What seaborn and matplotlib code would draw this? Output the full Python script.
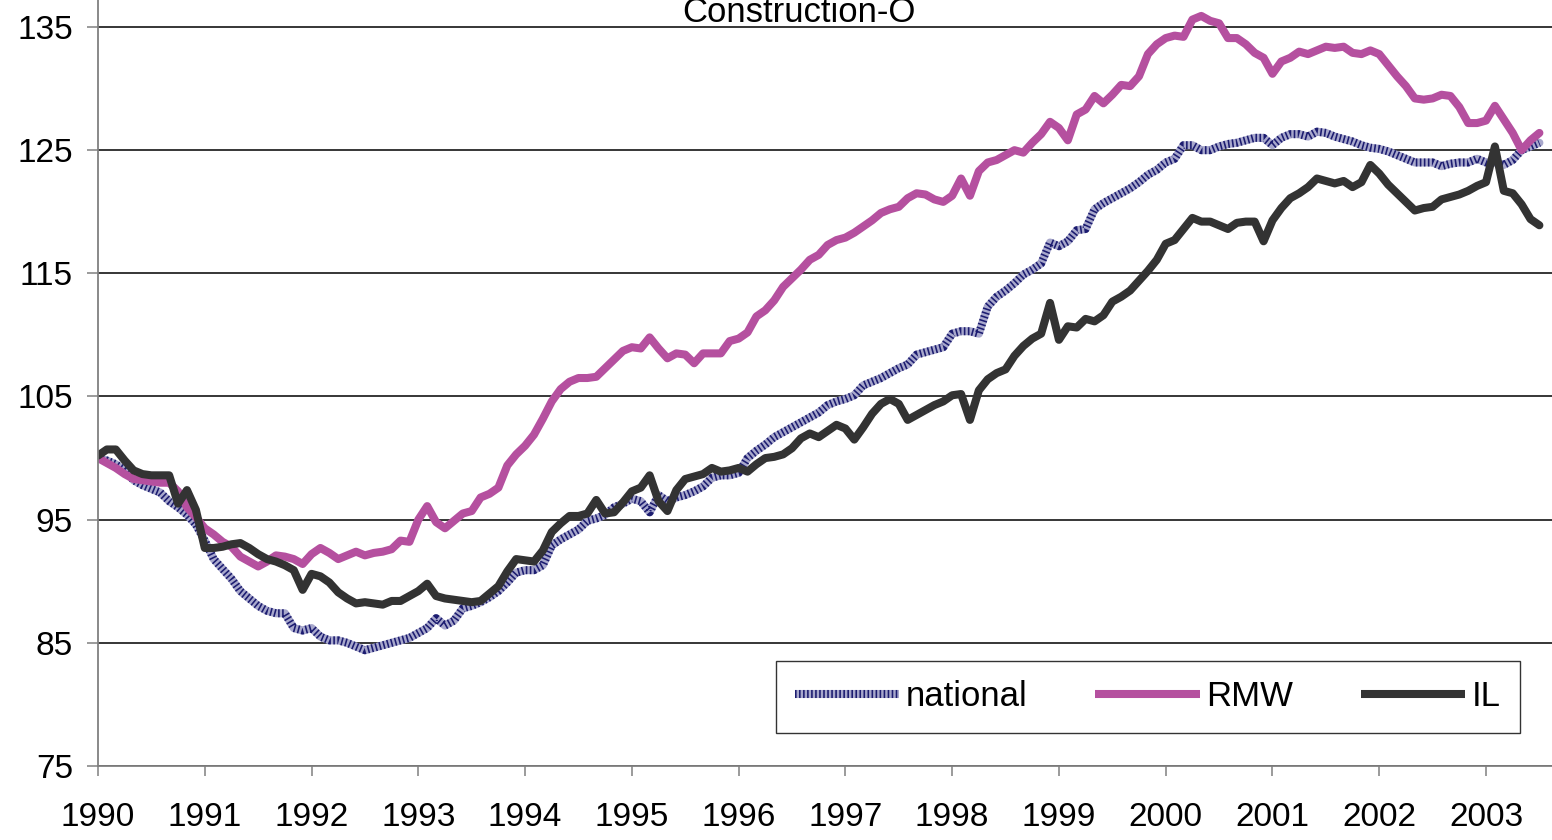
import matplotlib
matplotlib.use("Agg")
import matplotlib.pyplot as plt
import numpy as np
import pandas as pd
import seaborn as sns
from matplotlib.legend_handler import HandlerTuple
from matplotlib.lines import Line2D

# monthly index values, Jan 1990 .. Jul 2003
national = [
    100.0, 99.8, 99.5, 99.0, 98.2, 97.8, 97.5, 97.2, 96.5, 96.0, 95.4, 94.6,
    93.3, 91.8, 91.0, 90.2, 89.2, 88.6, 88.0, 87.6, 87.4, 87.4, 86.2, 86.0,
    86.2, 85.5, 85.2, 85.2, 85.0, 84.7, 84.4, 84.6, 84.8, 85.0, 85.2, 85.4,
    85.8, 86.2, 87.0, 86.4, 86.8, 87.8, 88.0, 88.3, 88.7, 89.2, 89.9, 90.7,
    90.9, 90.9, 91.3, 92.9, 93.4, 93.8, 94.2, 94.9, 95.1, 95.4, 96.0, 96.3,
    96.7, 96.5, 95.6, 97.0, 96.5, 96.8, 97.0, 97.3, 97.7, 98.4, 98.6, 98.6,
    98.8, 100.0, 100.6, 101.1, 101.7, 102.1, 102.5, 102.9, 103.3, 103.7, 104.3, 104.6,
    104.8, 105.1, 105.9, 106.2, 106.5, 106.9, 107.3, 107.6, 108.4, 108.6, 108.8, 109.0,
    110.1, 110.3, 110.3, 110.1, 112.3, 113.1, 113.6, 114.2, 114.9, 115.3, 115.8, 117.5,
    117.2, 117.6, 118.5, 118.6, 120.2, 120.7, 121.1, 121.5, 121.9, 122.4, 123.0, 123.4,
    124.0, 124.3, 125.4, 125.4, 125.0, 125.0, 125.3, 125.5, 125.6, 125.8, 126.0, 126.0,
    125.4, 126.0, 126.3, 126.3, 126.1, 126.5, 126.4, 126.1, 125.9, 125.7, 125.4, 125.2,
    125.1, 124.9, 124.6, 124.3, 124.0, 124.0, 124.0, 123.7, 123.9, 124.0, 124.0, 124.3,
    124.0, 124.0, 123.8, 124.2, 125.0, 125.3, 125.6,
]
rmw = [
    100.0, 99.6, 99.2, 98.7, 98.3, 98.2, 98.1, 98.0, 98.0, 97.3, 96.0, 95.2,
    94.3, 93.8, 93.2, 92.8, 92.0, 91.6, 91.2, 91.6, 92.1, 92.0, 91.8, 91.4,
    92.2, 92.7, 92.3, 91.8, 92.1, 92.4, 92.1, 92.3, 92.4, 92.6, 93.3, 93.2,
    95.0, 96.1, 94.8, 94.3, 94.9, 95.5, 95.7, 96.8, 97.1, 97.6, 99.4, 100.3,
    101.0, 101.9, 103.2, 104.6, 105.6, 106.2, 106.5, 106.5, 106.6, 107.3, 108.0, 108.7,
    109.0, 108.9, 109.8, 108.9, 108.1, 108.5, 108.4, 107.7, 108.5, 108.5, 108.5, 109.5,
    109.7, 110.2, 111.5, 112.0, 112.8, 113.9, 114.6, 115.3, 116.1, 116.5, 117.3, 117.7,
    117.9, 118.3, 118.8, 119.3, 119.9, 120.2, 120.4, 121.1, 121.5, 121.4, 121.0, 120.8,
    121.3, 122.7, 121.3, 123.3, 124.0, 124.2, 124.6, 125.0, 124.8, 125.6, 126.3, 127.3,
    126.8, 125.8, 127.9, 128.3, 129.4, 128.8, 129.5, 130.3, 130.2, 131.0, 132.8, 133.6,
    134.1, 134.3, 134.2, 135.6, 135.9, 135.5, 135.3, 134.1, 134.1, 133.6, 132.9, 132.5,
    131.2, 132.2, 132.5, 133.0, 132.8, 133.1, 133.4, 133.3, 133.4, 132.9, 132.8, 133.1,
    132.8, 131.9, 131.0, 130.2, 129.2, 129.1, 129.2, 129.5, 129.4, 128.5, 127.2, 127.2,
    127.4, 128.6, 127.5, 126.4, 125.0, 125.8, 126.4,
]
il = [
    100.2, 100.7, 100.7, 99.8, 99.0, 98.7, 98.6, 98.6, 98.6, 96.3, 97.4, 95.8,
    92.7, 92.7, 92.8, 93.0, 93.1, 92.7, 92.2, 91.8, 91.6, 91.3, 90.9, 89.3,
    90.6, 90.4, 89.9, 89.1, 88.6, 88.2, 88.3, 88.2, 88.1, 88.4, 88.4, 88.8,
    89.2, 89.8, 88.8, 88.6, 88.5, 88.4, 88.3, 88.4, 89.0, 89.6, 90.8, 91.8,
    91.7, 91.6, 92.5, 94.0, 94.7, 95.3, 95.3, 95.5, 96.6, 95.5, 95.6, 96.4,
    97.3, 97.6, 98.6, 96.5, 95.7, 97.4, 98.3, 98.5, 98.7, 99.2, 98.9, 99.0,
    99.2, 98.9, 99.5, 100.0, 100.1, 100.3, 100.8, 101.6, 102.0, 101.7, 102.2, 102.7,
    102.4, 101.5, 102.5, 103.6, 104.4, 104.8, 104.4, 103.1, 103.5, 103.9, 104.3, 104.6,
    105.1, 105.2, 103.1, 105.5, 106.4, 106.9, 107.2, 108.3, 109.1, 109.7, 110.1, 112.6,
    109.6, 110.7, 110.6, 111.3, 111.1, 111.6, 112.7, 113.1, 113.6, 114.4, 115.2, 116.1,
    117.4, 117.7, 118.6, 119.5, 119.2, 119.2, 118.9, 118.6, 119.1, 119.2, 119.2, 117.6,
    119.3, 120.3, 121.1, 121.5, 122.0, 122.7, 122.5, 122.3, 122.5, 122.0, 122.4, 123.8,
    123.1, 122.2, 121.5, 120.8, 120.1, 120.3, 120.4, 121.0, 121.2, 121.4, 121.7, 122.1,
    122.4, 125.3, 121.7, 121.5, 120.6, 119.4, 118.9,
]
year_ticks = list(range(1990, 2004))
y_ticks = [75, 85, 95, 105, 115, 125, 135]
title = "Construction-O"

sns.set_style("white")
plt.rcParams['font.family'] = ['Liberation Sans', 'DejaVu Sans']
plt.rcParams['text.color'] = 'black'
plt.rcParams['xtick.color'] = 'black'
plt.rcParams['ytick.color'] = 'black'

df = pd.DataFrame({
    'date': 1990 + np.arange(len(national)) / 12.0,
    'national': national,
    'RMW': rmw,
    'IL': il,
})

fig = plt.figure(figsize=(15.52, 8.4), dpi=100)
ax = fig.add_axes([98 / 1552, 74 / 840, 1454 / 1552, 766 / 840])

nat_base = '#a8a8cc'
nat_dots = '#1c1c70'
rmw_col = '#b5509f'
il_col = '#333333'
lw = 5.8
nat_dash = [0.2, 0.3]

# national: light base with navy dashes on top to mimic the checkered line
sns.lineplot(x='date', y='national', data=df, ax=ax, color=nat_base, linewidth=lw, legend=False)
sns.lineplot(x='date', y='national', data=df, ax=ax, color=nat_dots, linewidth=lw, legend=False)
ax.lines[-1].set_dashes(nat_dash)
sns.lineplot(x='date', y='RMW', data=df, ax=ax, color=rmw_col, linewidth=lw, legend=False)
sns.lineplot(x='date', y='IL', data=df, ax=ax, color=il_col, linewidth=lw, legend=False)

ax.set_xlim(1990, 1990 + 1454 / 106.77)
ax.set_ylim(75, 135 + 27 / 12.32)
ax.set_xticks(year_ticks)
ax.set_xticklabels([str(y) for y in year_ticks])
ax.set_yticks(y_ticks)
ax.set_xlabel('')
ax.set_ylabel('')

ax.yaxis.grid(True, color='black', linewidth=1.1)
ax.xaxis.grid(False)
ax.set_axisbelow(True)
for side in ['top', 'right']:
    ax.spines[side].set_visible(False)
for side in ['left', 'bottom']:
    ax.spines[side].set_color('#808080')
    ax.spines[side].set_linewidth(1.3)

ax.tick_params(axis='x', direction='out', length=7.2, width=1.1, color='#808080',
               labelcolor='black', pad=19, labelsize=24, bottom=True)
ax.tick_params(axis='y', direction='out', length=8, width=1.1, color='#808080',
               labelcolor='black', pad=10, labelsize=24, left=True)

fig.text(799 / 1552, 1 - 22 / 840, title, ha='center', va='baseline', fontsize=25,
         color='black')

# legend
h_nat = (Line2D([], [], color=nat_base, linewidth=lw, solid_capstyle='butt'),
         Line2D([], [], color=nat_dots, linewidth=lw, dashes=nat_dash))
h_rmw = Line2D([], [], color=rmw_col, linewidth=lw, solid_capstyle='butt')
h_il = Line2D([], [], color=il_col, linewidth=lw, solid_capstyle='butt')
leg = ax.legend([h_nat, h_rmw, h_il], ['national', 'RMW', 'IL'],
                handler_map={tuple: HandlerTuple(ndivide=1, pad=0)},
                ncol=3, loc='center', mode='expand', borderaxespad=0,
                bbox_to_anchor=(0.4663, 0.0405, 0.5117, 0.0992),
                fontsize=25, frameon=True, fancybox=False, framealpha=1,
                edgecolor='#333333', borderpad=0.55, handlelength=3.0,
                handletextpad=0.2, columnspacing=1.8)
leg.get_frame().set_linewidth(1.0)
for t in leg.get_texts():
    t.set_color('black')

fig.savefig('out.png', dpi=100)
